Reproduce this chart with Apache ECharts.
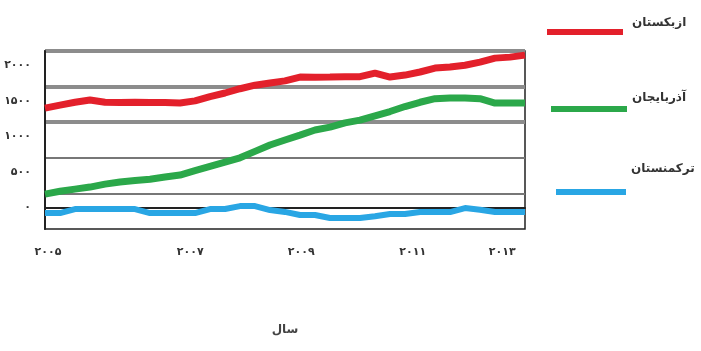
<!DOCTYPE html>
<html><head><meta charset="utf-8">
<script src="https://cdn.jsdelivr.net/npm/echarts@6/dist/echarts.min.js"></script>
<style>html,body{margin:0;padding:0;background:#fff}#c{width:701px;height:351px}</style>
</head><body><div id="c"></div>
<script>
// years (quarterly samples)
var years = [];
for (var i = 0; i <= 32; i++) { years.push(2005 + i * 0.25); }
var names = ['ازبکستان', 'آذربایجان', 'ترکمنستان'];
var uzbekistan = [1398,1440,1480,1511,1480,1475,1480,1475,1475,1469,1500,1560,1610,1670,1720,1750,1780,1834,1830,1834,1840,1840,1890,1834,1862,1905,1960,1974,2000,2044,2100,2114,2142];
var azerbaijan = [190,230,260,289,330,360,380,400,430,458,520,580,640,700,790,879,950,1019,1090,1130,1190,1230,1290,1350,1420,1480,1530,1539,1539,1530,1469,1469,1469];
var turkmenistan = [-76,-76,-20,-20,-20,-20,-20,-76,-76,-76,-76,-20,-20,22,22,-34,-60,-104,-104,-146,-146,-146,-120,-90,-90,-62,-62,-62,-6,-30,-62,-62,-62];
var yTickValues = [0, 500, 1000, 1500, 2000];
var yTickLabels = ['۰', '۵۰۰', '۱۰۰۰', '۱۵۰۰', '۲۰۰۰'];
var xTickValues = [2005.05, 2007.42, 2009.27, 2011.13, 2012.62];
var xTickLabels = ['۲۰۰۵', '۲۰۰۷', '۲۰۰۹', '۲۰۱۱', '۲۰۱۳'];
var xTitle = 'سال';

function pairs(v) { return v.map(function (y, i) { return [years[i], y]; }); }
var colors = ['#e3202b', '#2ba84a', '#29a6e4'];
var font = 'DejaVu Sans';

var chart = echarts.init(document.getElementById('c'));
function legend(idx, left, top, width, raise, shift) {
  return {
    data: [names[idx]], left: left, top: top, orient: 'vertical',
    icon: 'rect', itemWidth: width, itemHeight: 6, selectedMode: false,
    formatter: function (n) { return '{t|' + n + '}'; },
    textStyle: {
      fontFamily: font, fontSize: 12, fontWeight: 'bold', color: '#333',
      rich: { t: { fontFamily: font, fontSize: 12, fontWeight: 'bold', color: '#333', padding: [0, 0, raise * 2, shift] } }
    }
  };
}
chart.setOption({
  animation: false,
  color: colors,
  grid: { left: 45, right: 176, top: 51, bottom: 122, show: true, borderColor: '#222', borderWidth: 1.5, backgroundColor: 'transparent' },
  legend: [legend(0, 542, 12, 76, 9, 4), legend(1, 546, 87, 76, 11, 0), legend(2, 551, 158, 70, 23, 0)],
  xAxis: {
    type: 'value', min: 2005, max: 2013,
    name: xTitle, nameLocation: 'middle', nameGap: 95,
    nameTextStyle: { fontFamily: font, fontSize: 12, fontWeight: 'bold', color: '#444' },
    axisLine: { show: true, lineStyle: { color: '#222', width: 2 } },
    axisTick: { show: false },
    splitLine: { show: false },
    axisLabel: {
      customValues: xTickValues, margin: 18,
      fontFamily: font, fontSize: 11, fontWeight: 'bold', color: '#333',
      formatter: function (v) { var k = xTickValues.indexOf(v); return k >= 0 ? xTickLabels[k] : ''; }
    }
  },
  yAxis: [{
    type: 'value', min: -300, max: 2200, interval: 500,
    axisLine: { show: true, lineStyle: { color: '#222', width: 2 } },
    axisTick: { show: false },
    splitLine: { show: true, lineStyle: { width: 2, color: ['transparent', '#777', '#777', 'transparent', 'transparent', 'transparent'] } },
    axisLabel: {
      customValues: yTickValues, margin: 14,
      fontFamily: font, fontSize: 11, fontWeight: 'bold', color: '#333',
      formatter: function (v) { var k = yTickValues.indexOf(v); return k >= 0 ? yTickLabels[k] : ''; }
    }
  }, {
    type: 'value', min: -300, max: 2200, interval: 500, position: 'left',
    axisLine: { show: false }, axisTick: { show: false }, axisLabel: { show: false },
    splitLine: { show: true, lineStyle: { width: 4, color: ['transparent', 'transparent', 'transparent', '#8c8c8c', '#8c8c8c', '#8c8c8c'] } }
  }],
  series: [
    { name: names[0], type: 'line', data: pairs(uzbekistan), showSymbol: false, lineStyle: { width: 7 }, z: 3 },
    { name: names[1], type: 'line', data: pairs(azerbaijan), showSymbol: false, lineStyle: { width: 7 }, z: 3 },
    { name: names[2], type: 'line', data: pairs(turkmenistan), showSymbol: false, lineStyle: { width: 6 }, z: 3 }
  ]
});
</script></body></html>
